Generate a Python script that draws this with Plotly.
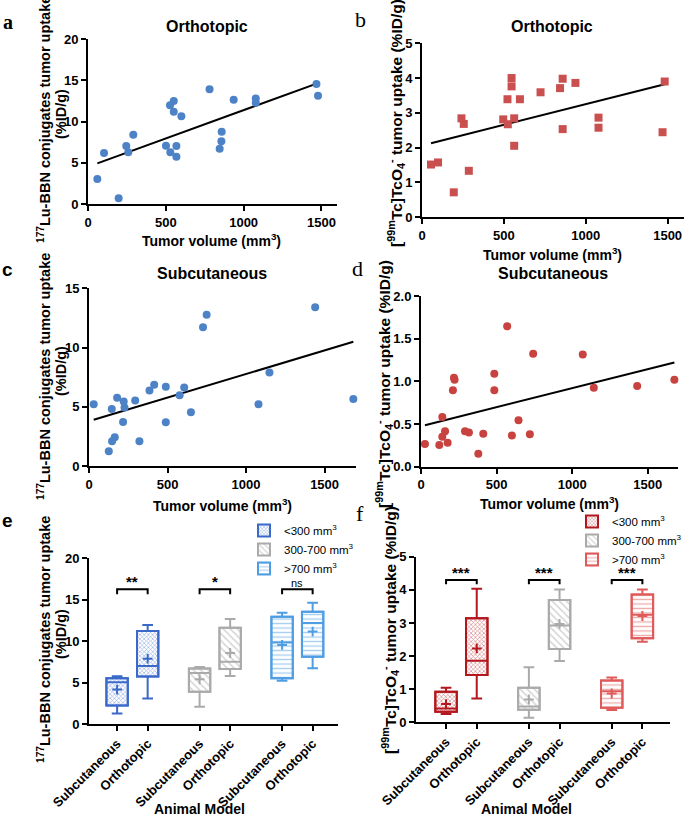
import numpy as np
import plotly.graph_objects as go

FONT = "Arial, Liberation Sans, sans-serif"
SERIF = "Liberation Serif, DejaVu Serif, serif"
W, H = 685, 817

# ---------------- data ----------------
# a: Orthotopic, 177Lu-BBN uptake vs tumor volume
a_volume = [60, 103, 197, 246, 259, 291, 501, 527, 529, 551, 551, 568, 568, 600,
            781, 846, 857, 859, 936, 1078, 1078, 1468, 1478]
a_uptake = [3.03, 6.18, 0.69, 7.03, 6.26, 8.40, 7.07, 11.96, 6.26, 12.48, 11.19, 7.03,
            5.74, 10.63, 13.9, 6.71, 7.6, 8.77, 12.65, 12.8, 12.28, 14.55, 13.13]
# b: Orthotopic, [99mTc]TcO4- uptake vs tumor volume
b_volume = [55, 98, 194, 241, 255, 286, 496, 524, 522, 547, 547, 563, 563, 598,
            724, 843, 859, 859, 937, 1078, 1078, 1469, 1482]
b_uptake = [1.51, 1.57, 0.71, 2.84, 2.68, 1.33, 2.81, 2.67, 3.39, 4.0, 3.76, 2.84,
            2.05, 3.39, 3.59, 3.71, 3.98, 2.53, 3.86, 2.86, 2.57, 2.44, 3.90]
# c: Subcutaneous, 177Lu-BBN uptake
c_volume = [30, 145, 126, 147, 164, 179, 217, 221, 226, 294, 321, 385, 415, 489, 489,
            577, 606, 649, 726, 749, 1079, 1149, 1440, 1683]
c_uptake = [5.21, 4.82, 1.24, 2.08, 2.42, 5.77, 3.72, 5.44, 4.93, 5.52, 2.08, 6.37,
            6.85, 6.70, 3.69, 5.97, 6.62, 4.54, 11.72, 12.76, 5.21, 7.89, 13.41, 5.66]
# d: Subcutaneous, [99mTc]TcO4- uptake
d_volume = [26, 121, 141, 141, 159, 176, 211, 218, 222, 291, 317, 379, 412, 485, 485,
            570, 601, 645, 720, 742, 1070, 1143, 1430, 1676]
d_uptake = [0.266, 0.254, 0.582, 0.352, 0.414, 0.281, 0.895, 1.043, 1.02, 0.414, 0.402,
            0.152, 0.387, 1.09, 0.895, 1.645, 0.367, 0.543, 0.379, 1.324, 1.316, 0.926,
            0.945, 1.02]

size_groups = ["<300 mm<sup>3</sup>", "300-700 mm<sup>3</sup>", ">700 mm<sup>3</sup>"]
models = ["Subcutaneous", "Orthotopic"]
# box statistics, order: (<300: Sub, Ort), (300-700: Sub, Ort), (>700: Sub, Ort)
e_low = [1.28, 3.08, 2.09, 5.79, 5.21, 6.72]
e_q1 = [2.24, 5.72, 3.90, 6.64, 5.51, 8.13]
e_med = [5.04, 7.0, 6.16, 7.52, 9.84, 12.2]
e_q3 = [5.52, 11.24, 6.70, 11.63, 12.96, 13.56]
e_high = [5.76, 11.96, 6.88, 12.68, 13.44, 14.63]
e_mean = [4.16, 7.88, 5.4, 8.57, 9.54, 11.15]
e_sig = ["**", "*", "ns"]
e_sig_level = 16.26

f_low = [0.25, 0.72, 0.14, 1.85, 0.37, 2.43]
f_q1 = [0.32, 1.43, 0.38, 2.21, 0.44, 2.54]
f_med = [0.42, 1.86, 0.48, 2.92, 0.94, 3.25]
f_q3 = [0.92, 3.14, 1.045, 3.69, 1.26, 3.86]
f_high = [1.045, 4.03, 1.66, 4.01, 1.35, 4.01]
f_mean = [0.55, 2.23, 0.69, 2.97, 0.87, 3.21]
f_sig = ["***", "***", "***"]
f_sig_level = 4.30

# ---------------- styles ----------------
BLUE_PT = "#4d83c6"
RED_SQ = "#c9504f"
RED_PT = "#c8433f"
e_colors = ["#3a69c9", "#aaaaaa", "#4f9de2"]
f_colors = ["#b3161c", "#aaaaaa", "#e05a5a"]
patterns = [dict(shape="x", size=3, solidity=0.4),
            dict(shape="\\", size=5, solidity=0.3),
            dict(shape="-", size=4.5, solidity=0.3)]

def px(xp):
    return xp / W

def py(yp):
    return 1 - yp / H

fig = go.Figure()

axis_common = dict(showline=True, linecolor="black", linewidth=2, ticks="outside",
                   ticklen=5, tickwidth=2, tickcolor="black", showgrid=False,
                   zeroline=False, automargin=False,
                   tickfont=dict(family=FONT, size=13, color="black", weight="bold"))

panels = [
    # name, x-domain px, y-domain px (bottom, top), xrange, yrange, xticks, yticks
    ("", (88, 337), (204, 39), [0, 1600], [0, 20], [0, 500, 1000, 1500], [0, 5, 10, 15, 20], None),
    ("2", (422, 684), (217, 43.3), [0, 1600], [0, 5], [0, 500, 1000, 1500], [0, 1, 2, 3, 4, 5], None),
    ("3", (89, 356), (466, 288.3), [0, 1700], [0, 15], [0, 500, 1000, 1500], [0, 5, 10, 15], None),
    ("4", (421, 678), (466.7, 296), [0, 1700], [0, 2], [0, 500, 1000, 1500], [0, 0.5, 1.0, 1.5, 2.0], ".1f"),
    ("5", (89, 338), (724, 558.3), [-0.92, 7.23], [0, 20], None, [0, 5, 10, 15, 20], None),
    ("6", (416, 670), (722.3, 556.7), [-0.98, 7.3], [0, 5], None, [0, 1, 2, 3, 4, 5], None),
]

layout_axes = {}
for name, xd, yd, xr, yr, xt, yt, yfmt in panels:
    xa = dict(axis_common, domain=[px(xd[0]), px(xd[1])], range=xr, anchor="y" + name,
              type="linear")
    ya = dict(axis_common, domain=[py(yd[0]), py(yd[1])], range=yr, anchor="x" + name,
              tickvals=yt, type="linear")
    if xt is not None:
        xa["tickvals"] = xt
    if yfmt:
        ya["tickformat"] = yfmt
    layout_axes["xaxis" + name] = xa
    layout_axes["yaxis" + name] = ya

# box positions for e/f
positions = [g * 2.7 + m for g in range(3) for m in range(2)]
tick_text = [models[m] for g in range(3) for m in range(2)]
for name in ("5", "6"):
    layout_axes["xaxis" + name].update(tickvals=positions, ticktext=tick_text, tickangle=-45)

# ---------------- scatter panels ----------------
scatter_specs = [
    ("x", "y", a_volume, a_uptake, "circle", BLUE_PT),
    ("x2", "y2", b_volume, b_uptake, "square", RED_SQ),
    ("x3", "y3", c_volume, c_uptake, "circle", BLUE_PT),
    ("x4", "y4", d_volume, d_uptake, "circle", RED_PT),
]
for xa, ya, vx, vy, sym, col in scatter_specs:
    slope, icpt = np.polyfit(vx, vy, 1)
    lx = np.array([min(vx), max(vx)], dtype=float)
    fig.add_trace(go.Scatter(x=lx, y=slope * lx + icpt, mode="lines",
                             line=dict(color="black", width=2), xaxis=xa, yaxis=ya,
                             showlegend=False, hoverinfo="skip", cliponaxis=False))
    fig.add_trace(go.Scatter(x=vx, y=vy, mode="markers",
                             marker=dict(symbol=sym, size=8, color=col),
                             xaxis=xa, yaxis=ya, showlegend=False, cliponaxis=False))

# ---------------- box panels ----------------
def add_boxes(xa, ya, low, q1, med, q3, high, mean, colors, legend_name, sig, sig_level, tick_h):
    for i, pos in enumerate(positions):
        g = i // 2
        col = colors[g]
        pat = dict(patterns[g], fgcolor=col, bgcolor="white")
        fig.add_trace(go.Bar(x=[pos], y=[q3[i] - q1[i]], base=[q1[i]], width=0.7,
                             marker=dict(color="white", line=dict(color=col, width=2),
                                         pattern=pat),
                             name=size_groups[g], legend=legend_name,
                             showlegend=(i % 2 == 0), xaxis=xa, yaxis=ya,
                             hoverinfo="skip"))
        fig.add_trace(go.Box(x=[pos], q1=[q1[i]], median=[med[i]], q3=[q3[i]],
                             lowerfence=[low[i]], upperfence=[high[i]], width=0.7,
                             whiskerwidth=0.5, fillcolor="rgba(0,0,0,0)",
                             line=dict(color=col, width=2), boxpoints=False,
                             showlegend=False, xaxis=xa, yaxis=ya))
        fig.add_trace(go.Scatter(x=[pos], y=[mean[i]], mode="markers",
                                 marker=dict(symbol="cross-thin", size=7,
                                             line=dict(color=col, width=2)),
                                 showlegend=False, xaxis=xa, yaxis=ya))
    for g in range(3):
        xs, xo = positions[2 * g], positions[2 * g + 1]
        fig.add_trace(go.Scatter(x=[xs, xs, xo, xo],
                                 y=[sig_level - tick_h, sig_level, sig_level, sig_level - tick_h],
                                 mode="lines", line=dict(color="black", width=2),
                                 showlegend=False, xaxis=xa, yaxis=ya, hoverinfo="skip"))
        is_ns = sig[g] == "ns"
        fig.add_annotation(x=(xs + xo) / 2, y=sig_level, xref=xa, yref=ya, text=sig[g],
                           showarrow=False, yanchor="bottom", yshift=(-2 if is_ns else -3),
                           font=dict(family=FONT, size=(11 if is_ns else 15), color="black",
                                     weight=("normal" if is_ns else "bold")))

add_boxes("x5", "y5", e_low, e_q1, e_med, e_q3, e_high, e_mean, e_colors, "legend",
          e_sig, e_sig_level, 0.6)
add_boxes("x6", "y6", f_low, f_q1, f_med, f_q3, f_high, f_mean, f_colors, "legend2",
          f_sig, f_sig_level, 0.13)

# ---------------- text ----------------
def ann(x, y, text, size=14, angle=0, family=FONT, weight="bold", xanchor="center"):
    fig.add_annotation(x=px(x), y=py(y), xref="paper", yref="paper", text=text,
                       showarrow=False, textangle=angle, xanchor=xanchor, yanchor="middle",
                       font=dict(family=family, size=size, color="black", weight=weight))

# titles
ann(207, 27, "Orthotopic", 16)
ann(552, 27, "Orthotopic", 16)
ann(212, 274, "Subcutaneous", 16)
ann(553, 273, "Subcutaneous", 16)
# x titles
vol_title = "Tumor volume (mm<sup>3</sup>)"
ann(211, 240, vol_title, 14)
ann(552, 254, vol_title, 14)
ann(222, 505, vol_title, 14)
ann(549, 503, vol_title, 14)
ann(200, 809, "Animal Model", 14)
ann(526, 809, "Animal Model", 14)
# y titles
lu_line1 = "<sup>177</sup>Lu-BBN conjugates tumor uptake"
lu_line2 = "(%ID/g)"
tc_title = "[<sup>99m</sup>Tc]TcO<sub>4</sub><sup>-</sup> tumor uptake (%ID/g)"
for yc in (120, 377, 640):
    ann(44, yc, lu_line1, 14.5, -90)
    ann(61, yc - 6, lu_line2, 14.5, -90)
ann(396, 123, tc_title, 15.5, -90)
ann(384, 384, tc_title, 15.5, -90)
ann(390, 630, tc_title, 15.5, -90)
# panel letters
ann(8, 22, "a", 20, family=SERIF)
ann(360, 19, "b", 22, family=SERIF, weight="normal")
ann(7, 270, "c", 19)
ann(357, 268, "d", 22, family=SERIF, weight="normal")
ann(8, 520, "e", 19)
ann(360, 513, "f", 22, family=SERIF, weight="normal")

legend_common = dict(xanchor="left", yanchor="top", bgcolor="rgba(0,0,0,0)",
                     font=dict(family=FONT, size=11.5, color="black"), tracegroupgap=0,
                     itemwidth=30)
fig.update_layout(
    width=W, height=H, margin=dict(l=0, r=0, t=0, b=0, autoexpand=False),
    paper_bgcolor="white", plot_bgcolor="white",
    barmode="overlay", boxmode="overlay",
    legend=dict(legend_common, x=px(244), y=py(516)),
    legend2=dict(legend_common, x=px(572), y=py(507)),
    **layout_axes,
)

fig.write_html("out.html", config={"displayModeBar": False},
               post_script="document.body.style.margin='0px';document.body.style.overflow='hidden';")
